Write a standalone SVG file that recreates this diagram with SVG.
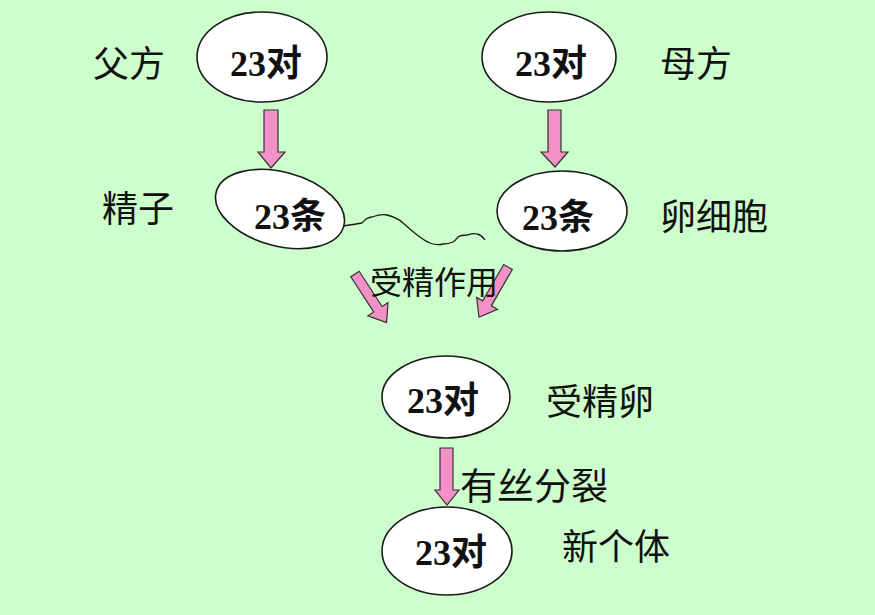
<svg xmlns="http://www.w3.org/2000/svg" width="875" height="615" viewBox="0 0 875 615">
<defs>
<style>
.bg{fill:#CCFFCC}
.cell{fill:#FFFFFF;stroke:#1a1a1a;stroke-width:1.6}
.num{font-family:"Liberation Serif","Noto Sans CJK SC",serif;font-weight:bold;font-size:36px;fill:#111;text-anchor:middle}
.lbl{font-family:"Noto Sans CJK SC","Noto Sans CJK TC",sans-serif;font-size:36px;fill:#111}
.arrow{fill:#F391C7;stroke:#333;stroke-width:1.2;stroke-linejoin:miter}
.tail{fill:none;stroke:#1a1a1a;stroke-width:1.3}
</style>
<path id="diag" d="M0,-5 L42,-5 L42,-12 L58,0 L42,12 L42,5 L0,5 Z"/>
</defs>
<rect class="bg" x="0" y="0" width="875" height="615"/>

<g id="connectors">
<path class="arrow" d="M264,110 L278,110 L278,152 L285,152 L271,168 L258,152 L264,152 Z"/>
<path class="arrow" d="M548,110 L561,110 L561,152 L568,152 L555,167 L541,152 L548,152 Z"/>
<use class="arrow" href="#diag" transform="translate(355,274) rotate(57)"/>
<use class="arrow" href="#diag" transform="translate(508,267) rotate(120)"/>
<path class="arrow" d="M440,448 L453,448 L453,490 L459,490 L447,505 L435,490 L440,490 Z"/>
</g>

<g id="father">
<ellipse class="cell" cx="262" cy="57" rx="65" ry="45"/>
<text class="num" x="266" y="76">23对</text>
</g>
<g id="mother">
<ellipse class="cell" cx="549" cy="57" rx="67" ry="45"/>
<text class="num" x="551" y="76">23对</text>
</g>
<g id="sperm">
<path class="tail" d="M343,226 C350,225 357,224 362,223 C364,221 365,220 366,219 C368,218 370,217 372,217 C378,215 382,214 387,215 C395,217 399,219 403,223 C409,228 414,233 420,237 C424,240 427,242 430,243 C435,245 439,245 443,244 C447,244 451,243 453,242 C456,240 457,238 458,237 C461,235 464,235 467,235 C471,234 474,233 477,234 C481,235 483,237 485,240"/>
<ellipse class="cell" cx="280" cy="209" rx="66" ry="37" transform="rotate(15 280 209)"/>
<text class="num" x="290" y="229">23条</text>
</g>
<g id="egg">
<ellipse class="cell" cx="562" cy="211" rx="65" ry="40"/>
<text class="num" x="558" y="230">23条</text>
</g>
<g id="zygote">
<ellipse class="cell" cx="446" cy="397" rx="64" ry="41"/>
<text class="num" x="443" y="413">23对</text>
</g>
<g id="individual">
<ellipse class="cell" cx="447" cy="551" rx="65" ry="44"/>
<text class="num" x="451" y="565">23对</text>
</g>

<g id="labels">
<text class="lbl" x="93" y="77">父方</text>
<text class="lbl" x="660" y="77">母方</text>
<text class="lbl" x="102" y="222">精子</text>
<text class="lbl" x="660" y="230">卵细胞</text>
<text class="lbl" x="370" y="294" style="font-size:32px">受精作用</text>
<text class="lbl" x="546" y="415">受精卵</text>
<text class="lbl" x="460" y="500" style="font-size:37px">有丝分裂</text>
<text class="lbl" x="562" y="560">新个体</text>
</g>
</svg>
